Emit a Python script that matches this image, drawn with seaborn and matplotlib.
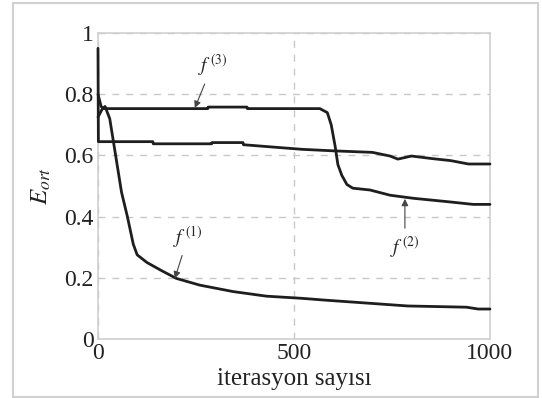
import numpy as np
import pandas as pd
import matplotlib
matplotlib.use("Agg")
import matplotlib.pyplot as plt
from matplotlib.patches import Rectangle
import seaborn as sns

# f(1): fast-decaying curve
f1_x = [0, 10, 18, 30, 40, 50, 60, 75, 90, 100, 125, 160, 200, 260, 345, 430, 520, 580, 680, 790, 940, 970, 1000]
f1_y = [0.725, 0.75, 0.76, 0.72, 0.64, 0.56, 0.48, 0.40, 0.31, 0.275, 0.25, 0.225, 0.198, 0.176, 0.155, 0.14, 0.133, 0.127, 0.118, 0.108, 0.104, 0.098, 0.098]

# f(3)/f(2): plateau then drop
f3_x = [0, 8, 15, 280, 281, 380, 381, 566, 585, 595, 605, 612, 622, 635, 650, 694, 745, 804, 898, 957, 1000]
f3_y = [0.80, 0.76, 0.753, 0.753, 0.758, 0.758, 0.753, 0.753, 0.74, 0.70, 0.63, 0.57, 0.535, 0.505, 0.493, 0.487, 0.47, 0.46, 0.448, 0.44, 0.44]

# slowly decreasing curve
f2_x = [0, 1, 140, 141, 290, 291, 370, 371, 440, 520, 600, 700, 745, 765, 800, 850, 900, 945, 1000]
f2_y = [0.95, 0.645, 0.645, 0.638, 0.638, 0.642, 0.642, 0.635, 0.628, 0.62, 0.615, 0.61, 0.598, 0.588, 0.598, 0.59, 0.583, 0.572, 0.572]

yticks = [0, 0.2, 0.4, 0.6, 0.8, 1]
ytick_labels = ["0", "0.2", "0.4", "0.6", "0.8", "1"]
xticks = [0, 500, 1000]
xtick_labels = ["0", "500", "1000"]

df = pd.concat([
    pd.DataFrame({"iter": f1_x, "E": f1_y, "curve": "f1"}),
    pd.DataFrame({"iter": f3_x, "E": f3_y, "curve": "f3"}),
    pd.DataFrame({"iter": f2_x, "E": f2_y, "curve": "f2"}),
])

sns.set_theme(style="white")
plt.rcParams["font.family"] = ["Liberation Serif", "DejaVu Serif"]
plt.rcParams["mathtext.fontset"] = "stix"

fig = plt.figure(figsize=(5.42, 3.98), dpi=100)
ax = fig.add_axes([0.1808, 0.1482, 0.7232, 0.7688])

sns.lineplot(data=df, x="iter", y="E", hue="curve", units="curve", estimator=None,
             palette={"f1": "#1e1e1e", "f2": "#1e1e1e", "f3": "#1e1e1e"},
             linewidth=2.0, legend=False, ax=ax, sort=False)
for ln in ax.lines:
    ln.set_clip_on(False)
    ln.set_zorder(3)

ax.set_xlim(0, 1000)
ax.set_ylim(0, 1)
ax.set_xticks(xticks)
ax.set_xticklabels(xtick_labels)
ax.set_yticks(yticks)
ax.set_yticklabels(ytick_labels)
ax.tick_params(length=0, labelsize=17, colors="#222222", pad=3)
ax.grid(True, linestyle=(0, (5, 5)), color="#c8c8c8", linewidth=1.0)
for s in ax.spines.values():
    s.set_color("#cfcfcf")
    s.set_linewidth(1.2)

ax.set_xlabel("iterasyon sayısı", fontsize=18, color="#222222", labelpad=3)
ax.set_ylabel(r"$E_{ort}$", fontsize=18, color="#222222", labelpad=8)

arrow = dict(arrowstyle="-|>", color="#444444", lw=0.8, mutation_scale=10, shrinkA=2, shrinkB=0)
ax.annotate(r"$f^{\,(3)}$", xy=(247, 0.755), xytext=(292, 0.895), fontsize=14,
            ha="center", va="center", arrowprops=arrow)
ax.annotate(r"$f^{\,(1)}$", xy=(196, 0.198), xytext=(230, 0.335), fontsize=14,
            ha="center", va="center", arrowprops=arrow)
ax.annotate(r"$f^{\,(2)}$", xy=(783, 0.458), xytext=(783, 0.30), fontsize=14,
            ha="center", va="center", arrowprops=arrow)

fig.patches.append(Rectangle((13 / 542, 1 / 398), 525 / 542, 394 / 398,
                             transform=fig.transFigure, fill=False,
                             edgecolor="#d0d0d0", linewidth=1.5))

fig.savefig("out.png", dpi=100)
